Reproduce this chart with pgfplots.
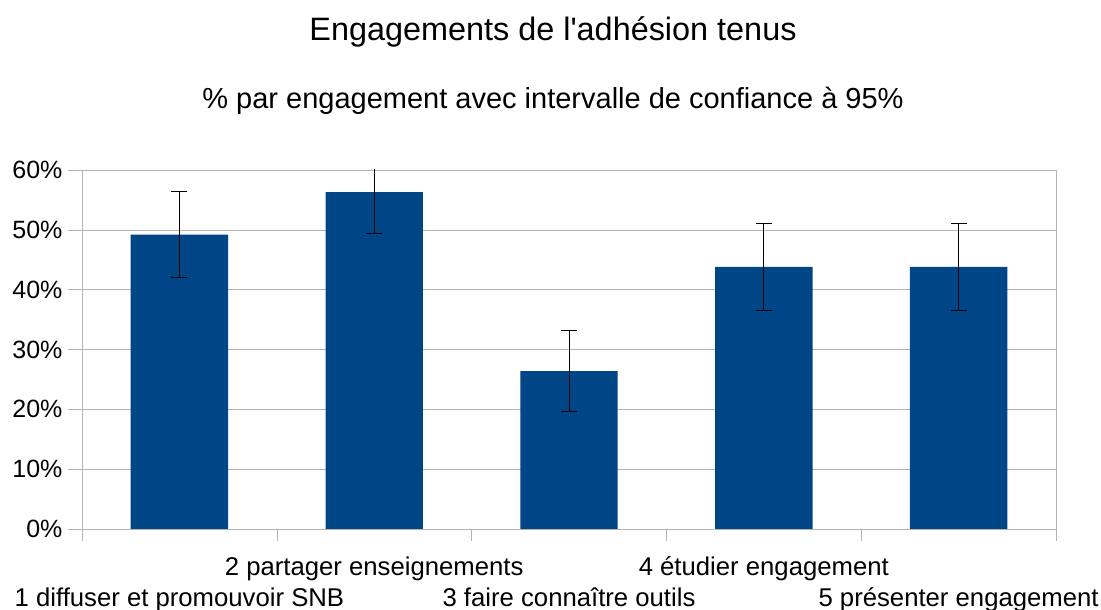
\documentclass[border=0pt]{standalone}
\usepackage{pgfplots}
\pgfplotsset{compat=1.18}
\usepackage{fontspec}
\setmainfont{Liberation Sans}
\definecolor{barre}{HTML}{004586}
\definecolor{grille}{HTML}{B3B3B3}

\begin{document}
\begin{tikzpicture}
\begin{axis}[
  scale only axis, width=974pt, height=359pt,
  xmin=0.5, xmax=5.5, ymin=0, ymax=60,
  ybar, bar width=0.5, bar shift=0pt,
  axis line style={grille}, every tick/.style={grille, thin},
  tick align=outside, major tick length=14pt,
  ytick pos=left, xtick pos=bottom,
  ytick={0,10,...,60}, yticklabels={0\%,10\%,20\%,30\%,40\%,50\%,60\%},
  ymajorgrids, grid style={grille, thin},
  xtick={1,...,5}, major x tick style={draw=none},
  minor xtick={0.5,1.5,...,5.5}, minor tick length=12pt, minor x tick style={grille, thin},
  xticklabels={{\strut\\1 diffuser et promouvoir SNB},{2 partager enseignements},
    {\strut\\3 faire connaître outils},{4 étudier engagement},{\strut\\5 présenter engagement}},
  xticklabel style={align=center, anchor=north, yshift=-10pt, font=\fontsize{25.7}{29.5}\selectfont},
  yticklabel style={font=\fontsize{25}{28}\selectfont, xshift=-2pt},
]
\addplot[fill=barre, draw=none,
  error bars/.cd, y dir=both, y explicit,
  error bar style={black, line width=0.8pt},
  error mark options={rotate=90, mark size=8pt, black, line width=0.8pt}]
  table[x=x, y=y, y error=e] {
x y    e
1 49.2 7.2
2 56.3 6.9
3 26.4 6.8
4 43.8 7.2
5 43.8 7.2
};
\end{axis}
\node[font=\fontsize{32.4}{38}\selectfont] at ([xshift=471pt, yshift=138pt]current axis.north west) {Engagements de l\textquotesingle adhésion tenus};
\node[font=\fontsize{29}{34}\selectfont] at ([xshift=471pt, yshift=69pt]current axis.north west) {\% par engagement avec intervalle de confiance à 95\%};
\pgfresetboundingbox
\path[use as bounding box] ([xshift=-82pt, yshift=-81pt]current axis.south west) rectangle ([xshift=45pt, yshift=170pt]current axis.north east);
\end{tikzpicture}
\end{document}
